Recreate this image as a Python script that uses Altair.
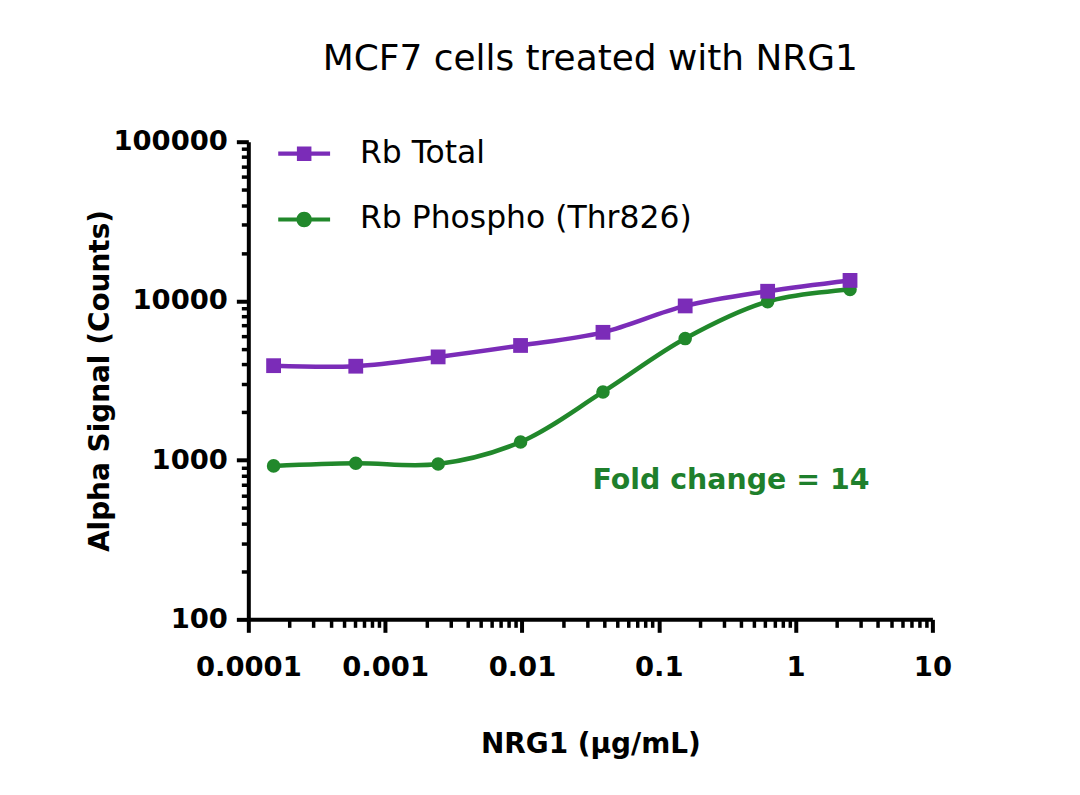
import altair as alt
import pandas as pd

# ---- data ----
conc = [0.000153, 0.00061, 0.00244, 0.00977, 0.0391, 0.156, 0.625, 2.5]
rb_total = [3920, 3890, 4450, 5250, 6350, 9300, 11500, 13450]
rb_phospho = [920, 955, 945, 1300, 2680, 5800, 9900, 11800]
series = ["Rb Total", "Rb Phospho (Thr826)"]
colors = ["#7B2CB8", "#21882B"]

x_major = [1e-4, 1e-3, 1e-2, 1e-1, 1, 10]
y_major = [100, 1000, 10000, 100000]
mults = [1, 2, 3, 4, 5, 6, 7, 8, 9]

annot_text = ["Fold change = 14"]
annot_x = [0.0328]
annot_y = [745]

x_ticks = [m * v for v in x_major[:-1] for m in mults] + [x_major[-1]]
y_ticks = [m * v for v in y_major[:-1] for m in mults] + [y_major[-1]]

df_total = pd.DataFrame({"conc": conc, "signal": rb_total, "series": series[0]})
df_phos = pd.DataFrame({"conc": conc, "signal": rb_phospho, "series": series[1]})
df_all = pd.concat([df_total, df_phos], ignore_index=True)
df_annot = pd.DataFrame({"conc": annot_x, "signal": annot_y, "text": annot_text})

LABEL_FONT = "DejaVu Sans"
TEXT_FONT = "DejaVu Sans"

major_test = "abs(log(datum.value)/LN10 - round(log(datum.value)/LN10)) < 1e-6"

xscale = alt.Scale(type="log", domain=[1e-4, 10], nice=False)
yscale = alt.Scale(type="log", domain=[100, 100000], nice=False)

xaxis = alt.Axis(
    values=x_ticks,
    title="NRG1 (µg/mL)",
    labelExpr=f"{major_test} ? format(datum.value, '~g') : ''",
    labelOverlap=False,
    labelFlush=False,
    tickSize={"condition": {"test": major_test, "value": 13}, "value": 8},
    tickWidth={"condition": {"test": major_test, "value": 4}, "value": 3.5},
    labelPadding=21,
    titlePadding=50,
    grid=False,
)
yaxis = alt.Axis(
    values=y_ticks,
    title="Alpha Signal (Counts)",
    labelExpr=f"{major_test} ? format(datum.value, 'd') : ''",
    labelOverlap=False,
    labelFlush=False,
    tickSize={"condition": {"test": major_test, "value": 12}, "value": 7},
    tickWidth={"condition": {"test": major_test, "value": 4}, "value": 3.5},
    labelPadding=9,
    titlePadding=-2,
    grid=False,
)

X = alt.X("conc:Q", scale=xscale, axis=xaxis)
Y = alt.Y("signal:Q", scale=yscale, axis=yaxis)

base_p = alt.Chart(df_phos)
base_t = alt.Chart(df_total)

line_p = base_p.mark_line(interpolate="catmull-rom", strokeWidth=4.5, color=colors[1]).encode(x=X, y=Y)
pts_p = base_p.mark_circle(size=185, opacity=1, color=colors[1]).encode(x=X, y=Y)
line_t = base_t.mark_line(interpolate="catmull-rom", strokeWidth=4.5, color=colors[0]).encode(x=X, y=Y)
pts_t = base_t.mark_square(size=220, opacity=1, color=colors[0]).encode(x=X, y=Y)

sq_path = "M-1,-0.08L1,-0.08L1,0.08L-1,0.08Z M-0.28,-0.28L0.28,-0.28L0.28,0.28L-0.28,0.28Z"
ci_path = "M-1,-0.08L1,-0.08L1,0.08L-1,0.08Z M0.3,0A0.3,0.3,0,1,1,-0.3,0A0.3,0.3,0,1,1,0.3,0Z"

legend_layer = alt.Chart(df_all).mark_point(filled=True, opacity=1).encode(
    x=X,
    y=Y,
    color=alt.Color(
        "series:N",
        scale=alt.Scale(domain=series, range=colors),
        legend=alt.Legend(
            title=None,
            orient="none",
            legendX=30,
            legendY=-14,
            symbolSize=2704,
            symbolOpacity=1,
            symbolStrokeWidth=0,
            labelFont=TEXT_FONT,
            labelFontSize=31.5,
            labelColor="black",
            labelOffset=30,
            labelLimit=0,
            rowPadding=24,
        ),
    ),
    shape=alt.Shape("series:N", scale=alt.Scale(domain=series, range=[sq_path, ci_path])),
).transform_filter("false")

annot = alt.Chart(df_annot).mark_text(
    align="left", baseline="middle", font=TEXT_FONT, fontWeight="bold",
    fontSize=28.5, color="#1E7F2C",
).encode(x=X, y=Y, text="text:N")

chart = alt.layer(line_p, pts_p, line_t, pts_t, legend_layer, annot).properties(
    width=686,
    height=479,
    title=alt.TitleParams(
        "MCF7 cells treated with NRG1",
        font=TEXT_FONT, fontSize=36, fontWeight="normal", color="black",
        anchor="middle", offset=50,
    ),
    autosize=alt.AutoSizeParams(type="none"),
    padding={"left": 241, "top": 133, "right": 140, "bottom": 150},
    background="white",
).configure_view(stroke=None).configure_axis(
    domainColor="black",
    domainWidth=4,
    tickColor="black",
    labelFont=LABEL_FONT,
    labelFontWeight="bold",
    labelFontSize=27.5,
    labelColor="black",
    titleFont=LABEL_FONT,
    titleFontWeight="bold",
    titleFontSize=28,
    titleColor="black",
)

chart.save("out.html", embed_options={"renderer": "svg", "actions": False})
